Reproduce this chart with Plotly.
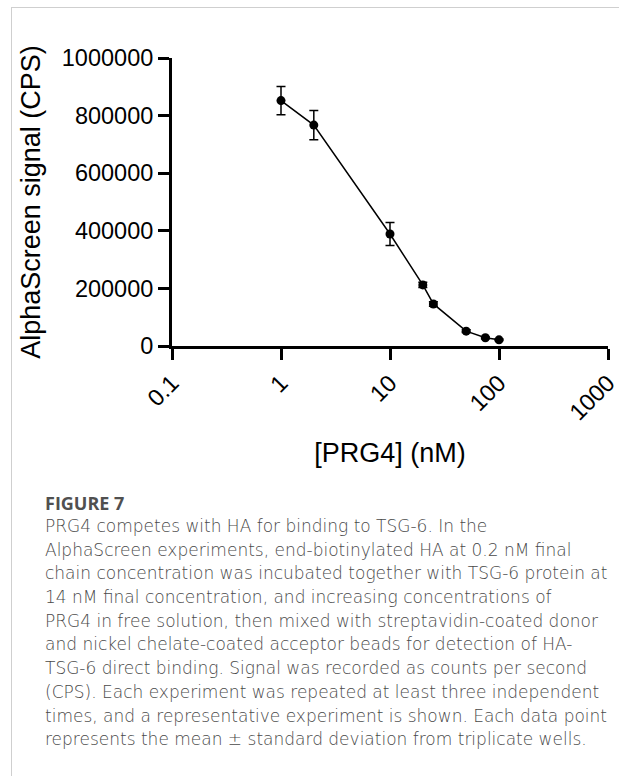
import plotly.graph_objects as go

# ---- data ----
prg4_nM = [1, 2, 10, 20, 25, 50, 75, 100]
signal_cps = [852000, 767000, 389000, 212000, 146000, 51500, 28500, 21500]
signal_sd = [49000, 51000, 40000, 9000, 8000, 5000, 3000, 2500]

y_tick_vals = [0, 200000, 400000, 600000, 800000, 1000000]
y_tick_text = ["0", "200000", "400000", "600000", "800000", "1000000"]
x_tick_vals = [0.1, 1, 10, 100, 1000]
x_tick_text = ["0.1", "1", "10", "100", "1000"]

x_title = "[PRG4] (nM)"
y_title = "AlphaScreen signal (CPS)"

caption_head = "FIGURE 7"
caption_lines = [
    "PRG4 competes with HA for binding to TSG-6. In the",
    "AlphaScreen experiments, end-biotinylated HA at 0.2 nM final",
    "chain concentration was incubated together with TSG-6 protein at",
    "14 nM final concentration, and increasing concentrations of",
    "PRG4 in free solution, then mixed with streptavidin-coated donor",
    "and nickel chelate-coated acceptor beads for detection of HA-",
    "TSG-6 direct binding. Signal was recorded as counts per second",
    "(CPS). Each experiment was repeated at least three independent",
    "times, and a representative experiment is shown. Each data point",
    "represents the mean \u00b1 standard deviation from triplicate wells.",
]

# ---- layout geometry (pixels) ----
W, H = 619, 776
ML, MR, MT, MB = 172, 11, 58, 430
PW = W - ML - MR
PH = H - MT - MB


def px_x(px):
    return (px - ML) / PW


def px_y(py):
    return (H - MB - py) / PH


fig = go.Figure()
fig.add_trace(go.Scatter(
    x=prg4_nM, y=signal_cps,
    mode="lines+markers",
    line=dict(color="black", width=1.5),
    marker=dict(color="black", size=9),
    error_y=dict(type="data", array=signal_sd, visible=True,
                 color="black", thickness=1.5, width=4.5),
    cliponaxis=False,
    showlegend=False,
))

tick_font = dict(family="Liberation Sans, Arial, sans-serif", size=23.5, color="black")
title_font = dict(family="Liberation Sans, Arial, sans-serif", size=27, color="black")

fig.update_xaxes(
    type="log", range=[-1, 3],
    tickvals=x_tick_vals, ticktext=x_tick_text, tickangle=-45,
    ticklabeloverflow="allow",
    ticks="outside", ticklen=11, tickwidth=3, tickcolor="black",
    showline=True, linewidth=3, linecolor="black",
    showgrid=False, zeroline=False,
    tickfont=tick_font,
    title=dict(text=x_title, font=title_font, standoff=19),
    automargin=False,
)
fig.update_yaxes(
    range=[0, 1000000],
    tickvals=y_tick_vals, ticktext=y_tick_text,
    ticks="outside", ticklen=11, tickwidth=3, tickcolor="black",
    showline=True, linewidth=3, linecolor="black",
    showgrid=False, zeroline=False,
    tickfont=tick_font,
    title=dict(text=y_title, font=title_font, standoff=14),
    automargin=False,
)

annotations = []
annotations.append(dict(
    text="<b>" + caption_head + "</b>", xref="paper", yref="paper",
    x=px_x(43), y=px_y(503), xanchor="left", yanchor="middle",
    showarrow=False,
    font=dict(family="Open Sans, Noto Sans, sans-serif", size=18, color="#505050"),
))
for i, line in enumerate(caption_lines):
    annotations.append(dict(
        text=line, xref="paper", yref="paper",
        x=px_x(43), y=px_y(526 + i * 23.7), xanchor="left", yanchor="middle",
        showarrow=False,
        font=dict(family="DejaVu Sans, Open Sans, sans-serif", size=17,
                  color="#4a4a4a", weight=200),
    ))

shapes = [
    dict(type="line", xref="paper", yref="paper",
         x0=px_x(11), x1=px_x(W + 5), y0=px_y(7.5), y1=px_y(7.5),
         line=dict(color="#cfcfcf", width=1)),
    dict(type="line", xref="paper", yref="paper",
         x0=px_x(11.5), x1=px_x(11.5), y0=px_y(7.5), y1=px_y(H + 5),
         line=dict(color="#cfcfcf", width=1)),
]

fig.update_layout(
    width=W, height=H,
    margin=dict(l=ML, r=MR, t=MT, b=MB, autoexpand=False),
    paper_bgcolor="white", plot_bgcolor="white",
    annotations=annotations, shapes=shapes,
)

fig.write_html("out.html", config={"displayModeBar": False},
               post_script="document.body.style.margin='0px';")
